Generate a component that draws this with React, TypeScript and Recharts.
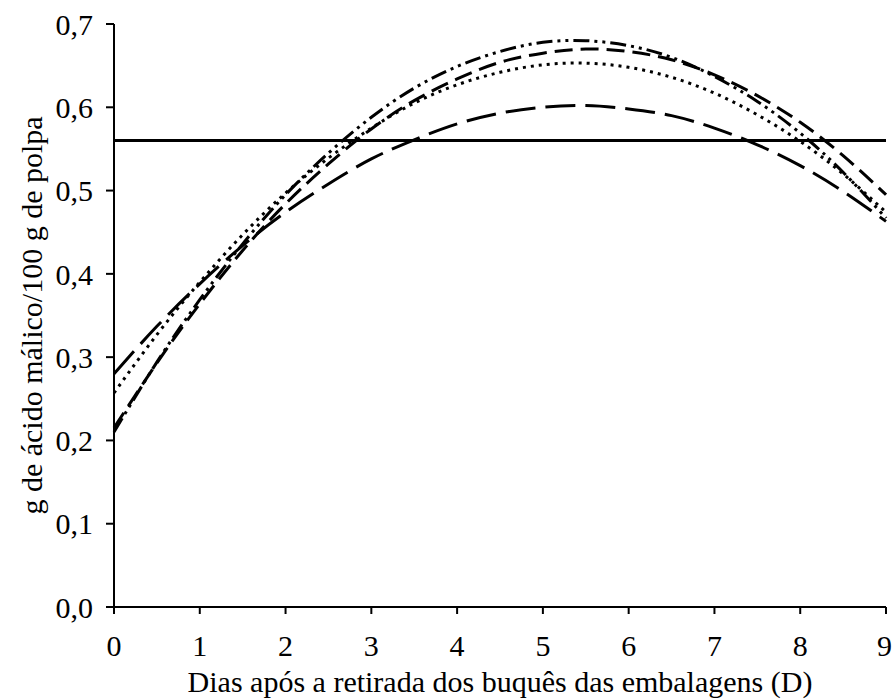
import { LineChart, Line, XAxis, YAxis, ReferenceLine } from "recharts";

// days after removal (half-day steps)
const days = [0, 0.5, 1, 1.5, 2, 2.5, 3, 3.5, 4, 4.5, 5, 5.5, 6, 6.5, 7, 7.5, 8, 8.5, 9];

// g malic acid / 100 g pulp
const longDash = [0.28, 0.337, 0.388, 0.434, 0.474, 0.508, 0.538, 0.561, 0.58, 0.593, 0.6, 0.602, 0.598, 0.59, 0.575, 0.555, 0.53, 0.499, 0.463];
const dotted = [0.257, 0.327, 0.39, 0.447, 0.497, 0.539, 0.575, 0.605, 0.627, 0.642, 0.651, 0.653, 0.648, 0.636, 0.617, 0.591, 0.559, 0.52, 0.474];
const dashed = [0.215, 0.293, 0.364, 0.428, 0.484, 0.532, 0.574, 0.608, 0.634, 0.654, 0.665, 0.67, 0.667, 0.657, 0.639, 0.614, 0.582, 0.542, 0.495];
const dashDotDot = [0.21, 0.294, 0.369, 0.436, 0.495, 0.545, 0.588, 0.623, 0.649, 0.667, 0.678, 0.68, 0.674, 0.66, 0.637, 0.607, 0.569, 0.522, 0.467];

const threshold = 0.56;

const xTicks = [0, 1, 2, 3, 4, 5, 6, 7, 8, 9];
const yTicks = [0, 0.1, 0.2, 0.3, 0.4, 0.5, 0.6, 0.7];

const data = days.map((d, i) => ({
  d,
  a: longDash[i],
  b: dotted[i],
  c: dashed[i],
  e: dashDotDot[i],
}));

const FONT = '"Liberation Serif", "Times New Roman", serif';
const tickStyle = { fill: "#000", fontSize: 30, fontFamily: FONT };

const YTitle = (props: any) => {
  const vb = props.viewBox;
  const cy = vb.y + vb.height / 2;
  return (
    <text
      x={31}
      y={cy}
      transform={`rotate(-90, 31, ${cy})`}
      textAnchor="middle"
      dominantBaseline="central"
      fontSize={30}
      fontFamily={FONT}
      fill="#000"
    >
      g de ácido málico/100 g de polpa
    </text>
  );
};

const XTitle = (props: any) => {
  const vb = props.viewBox;
  return (
    <text
      x={vb.x + vb.width / 2}
      y={692}
      textAnchor="middle"
      fontSize={30}
      fontFamily={FONT}
      fill="#000"
    >
      Dias após a retirada dos buquês das embalagens (D)
    </text>
  );
};

export default function App() {
  return (
    <div style={{ position: "absolute", left: 0, top: 0, width: 892, height: 700, background: "#fff" }}>
      <LineChart width={892} height={700} data={data} margin={{ top: 24, right: 6, bottom: 0, left: 0 }}>
        <XAxis
          dataKey="d"
          type="number"
          domain={[0, 9]}
          ticks={xTicks}
          height={93}
          tick={tickStyle}
          tickSize={7}
          tickMargin={21}
          axisLine={{ stroke: "#000", strokeWidth: 2 }}
          tickLine={{ stroke: "#000", strokeWidth: 2 }}
          label={{ content: XTitle }}
        />
        <YAxis
          type="number"
          domain={[0, 0.7]}
          ticks={yTicks}
          width={114}
          tick={tickStyle}
          tickSize={8}
          tickMargin={13}
          tickFormatter={(v: number) => v.toFixed(1).replace(".", ",")}
          axisLine={{ stroke: "#000", strokeWidth: 2 }}
          tickLine={{ stroke: "#000", strokeWidth: 2 }}
          label={{ content: YTitle }}
        />
        <ReferenceLine y={threshold} stroke="#000" strokeWidth={3} />
        <Line type="natural" dataKey="a" stroke="#000" strokeWidth={3} strokeDasharray="30 10" dot={false} isAnimationActive={false} />
        <Line type="natural" dataKey="b" stroke="#000" strokeWidth={3} strokeDasharray="3 5" dot={false} isAnimationActive={false} />
        <Line type="natural" dataKey="c" stroke="#000" strokeWidth={3} strokeDasharray="18 8" dot={false} isAnimationActive={false} />
        <Line type="natural" dataKey="e" stroke="#000" strokeWidth={3} strokeDasharray="16 5 3 5 3 5" dot={false} isAnimationActive={false} />
      </LineChart>
    </div>
  );
}
